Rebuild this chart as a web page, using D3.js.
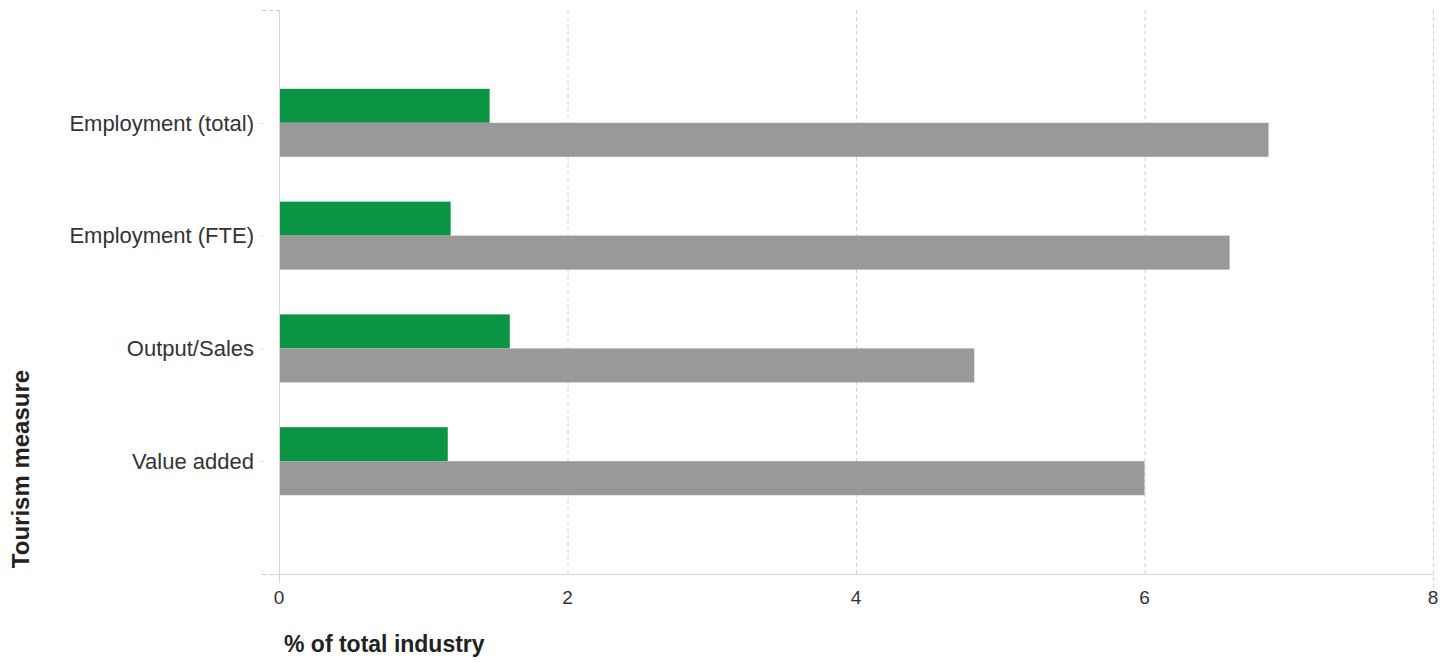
<!DOCTYPE html>
<html>
<head>
<meta charset="utf-8">
<script src="https://cdn.jsdelivr.net/npm/d3@7"></script>
<style>
  body { margin: 0; background: #fff; }
  text { font-family: "Liberation Sans", Arial, sans-serif; }
</style>
</head>
<body>
<script>
// tourism share of total industry
var categories = ["Employment (total)", "Employment (FTE)", "Output/Sales", "Value added"];
var greenValues = [1.46, 1.19, 1.60, 1.17];
var greyValues = [6.86, 6.59, 4.82, 6.00];
var xTicks = [0, 2, 4, 6, 8];

var width = 1452, height = 662;
var plotLeft = 279, plotRight = 1433, plotTop = 10, plotBottom = 574;

var svg = d3.select("body").append("svg")
    .attr("width", width)
    .attr("height", height);

var x = d3.scaleLinear().domain([0, 8]).range([plotLeft, plotRight]);
// empty slots at both ends leave the space above and below
var y = d3.scalePoint().domain(["_a"].concat(categories, ["_b"])).range([plotTop, plotBottom]);
var barH = 34;

// ====== GRID ======
svg.selectAll(".grid")
    .data(xTicks.slice(1))
    .enter().append("line")
        .attr("class", "grid")
        .attr("x1", function(d) { return x(d) + 0.5 })
        .attr("x2", function(d) { return x(d) + 0.5 })
        .attr("y1", plotTop)
        .attr("y2", function(d) { return d == 8 ? plotBottom + 14 : plotBottom })
        .style("stroke", "#d0d0d0")
        .style("stroke-dasharray", "4,3");

// ====== BARS ======
svg.selectAll(".green")
    .data(categories)
    .enter().append("rect")
        .attr("class", "green")
        .attr("x", x(0))
        .attr("y", function(d) { return y(d) - barH })
        .attr("width", function(d, i) { return x(greenValues[i]) - x(0) })
        .attr("height", barH)
        .style("fill", "#0a9444");

svg.selectAll(".grey")
    .data(categories)
    .enter().append("rect")
        .attr("class", "grey")
        .attr("x", x(0))
        .attr("y", function(d) { return y(d) })
        .attr("width", function(d, i) { return x(greyValues[i]) - x(0) })
        .attr("height", barH)
        .style("fill", "#999999");

// ====== AXES ======
svg.append("line")
    .attr("x1", plotLeft + 0.5).attr("x2", plotLeft + 0.5)
    .attr("y1", plotTop).attr("y2", plotBottom + 9)
    .style("stroke", "#d6d6d6");
svg.append("line")
    .attr("x1", plotLeft).attr("x2", plotRight)
    .attr("y1", plotBottom + 0.5).attr("y2", plotBottom + 0.5)
    .style("stroke", "#d6d6d6");

// dashed end ticks on the y axis
svg.selectAll(".ytick")
    .data([plotTop, plotBottom])
    .enter().append("line")
        .attr("class", "ytick")
        .attr("x1", plotLeft - 17).attr("x2", plotLeft)
        .attr("y1", function(d) { return d + 0.5 })
        .attr("y2", function(d) { return d + 0.5 })
        .style("stroke", "#cccccc")
        .style("stroke-dasharray", "4,3");

// faint ticks at the categories
svg.selectAll(".ctick")
    .data(categories)
    .enter().append("line")
        .attr("class", "ctick")
        .attr("x1", plotLeft - 20).attr("x2", plotLeft - 15)
        .attr("y1", function(d) { return y(d) + 0.5 })
        .attr("y2", function(d) { return y(d) + 0.5 })
        .style("stroke", "#e4e4e4");

svg.selectAll(".cat")
    .data(categories)
    .enter().append("text")
        .attr("class", "cat")
        .attr("x", plotLeft - 25)
        .attr("y", function(d) { return y(d) })
        .attr("dy", "0.35em")
        .attr("text-anchor", "end")
        .style("font-size", "22px")
        .style("fill", "#333")
        .text(function(d) { return d });

svg.selectAll(".xlab")
    .data(xTicks)
    .enter().append("text")
        .attr("class", "xlab")
        .attr("x", function(d) { return x(d) })
        .attr("y", 604)
        .attr("text-anchor", "middle")
        .style("font-size", "19px")
        .style("fill", "#333")
        .text(function(d) { return d });

svg.append("text")
    .attr("x", 284)
    .attr("y", 652)
    .style("font-size", "23px")
    .style("font-weight", "bold")
    .style("fill", "#222")
    .text("% of total industry");

svg.append("text")
    .attr("transform", "translate(29,469) rotate(-90)")
    .attr("text-anchor", "middle")
    .style("font-size", "24px")
    .style("font-weight", "bold")
    .style("fill", "#222")
    .text("Tourism measure");
</script>
</body>
</html>
